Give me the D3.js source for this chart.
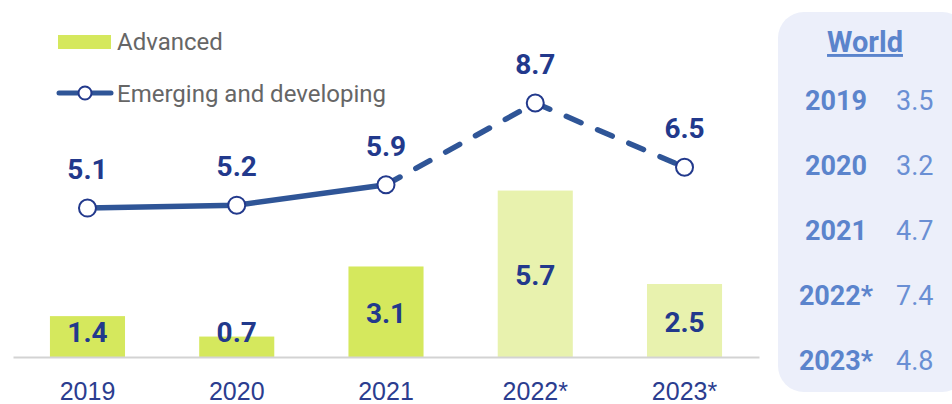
<!DOCTYPE html>
<html>
<head>
<meta charset="utf-8">
<script src="https://cdn.jsdelivr.net/npm/d3@7"></script>
<style>
    body { margin: 0; background: #fff; }
    svg { display: block; font-family: Roboto, "Noto Sans", sans-serif; }
    .axis .domain { stroke: #d3d3d3; stroke-width: 2; }
    .axis text { font-size: 25px; fill: #2b3d8f; }
    .val { font-size: 28px; font-weight: 700; fill: #22398c; text-anchor: middle; }
    .legend text { font-size: 24px; fill: #666; }
</style>
</head>
<body>
<svg id="chart" width="952" height="404"></svg>
<script>
// data
const years = ["2019", "2020", "2021", "2022*", "2023*"];
const forecast = [false, false, false, true, true];
const advanced = [1.4, 0.7, 3.1, 5.7, 2.5];
const emerging = [5.1, 5.2, 5.9, 8.7, 6.5];
const world = [3.5, 3.2, 4.7, 7.4, 4.8];

const svg = d3.select("#chart");

const x = d3.scaleBand().domain(years).range([13, 759])
    .paddingInner(0.497).paddingOuter(0.2475);
const y = d3.scaleLinear().domain([0, 10]).range([357, 65]);
const cx = d => x(d) + x.bandwidth() / 2;

// bars
svg.selectAll("rect.bar").data(years).enter()
    .append("rect")
        .attr("class", "bar")
        .attr("x", d => x(d))
        .attr("width", x.bandwidth())
        .attr("y", (d, i) => y(advanced[i]))
        .attr("height", (d, i) => y(0) - y(advanced[i]))
        .attr("fill", (d, i) => forecast[i] ? "#e8f2ae" : "#d5e85d");

// axis
const axis = svg.append("g").attr("class", "axis")
    .attr("transform", "translate(0," + y(0) + ")")
    .call(d3.axisBottom(x).tickSize(0).tickSizeOuter(0).tickPadding(25));
axis.selectAll(".tick line").remove();

// bar labels
svg.selectAll("text.bar-label").data(years).enter()
    .append("text")
        .attr("class", "val bar-label")
        .attr("x", cx)
        .attr("y", (d, i) => Math.min(y(advanced[i] / 2), y(0.9)) + 11)
        .text((d, i) => advanced[i].toFixed(1));

// emerging line: solid for actual years, dashed for estimates
const pts = years.map((d, i) => [cx(d), y(emerging[i])]);
const line = d3.line();
svg.append("path")
    .attr("d", line(pts.slice(0, 3)))
    .attr("fill", "none").attr("stroke", "#2f5597").attr("stroke-width", 5.5);
svg.append("path")
    .attr("d", line(pts.slice(2)))
    .attr("fill", "none").attr("stroke", "#2f5597").attr("stroke-width", 5.5)
    .attr("stroke-linecap", "round").attr("stroke-dasharray", "16,18");

svg.selectAll("circle.pt").data(pts).enter()
    .append("circle")
        .attr("class", "pt")
        .attr("cx", d => d[0]).attr("cy", d => d[1]).attr("r", 8.5)
        .attr("fill", "#fff").attr("stroke", "#22398c").attr("stroke-width", 2);

svg.selectAll("text.line-label").data(years).enter()
    .append("text")
        .attr("class", "val line-label")
        .attr("x", cx)
        .attr("y", (d, i) => y(emerging[i]) - 29)
        .text((d, i) => emerging[i].toFixed(1));

// legend
const lg = svg.append("g").attr("class", "legend");
lg.append("rect").attr("x", 58).attr("y", 35).attr("width", 53).attr("height", 14).attr("fill", "#d5e85d");
lg.append("text").attr("x", 117).attr("y", 50).text("Advanced");
lg.append("line").attr("x1", 59).attr("x2", 111).attr("y1", 93).attr("y2", 93)
    .attr("stroke", "#2f5597").attr("stroke-width", 5).attr("stroke-linecap", "round");
lg.append("circle").attr("cx", 85).attr("cy", 93).attr("r", 6.5)
    .attr("fill", "#fff").attr("stroke", "#22398c").attr("stroke-width", 2);
lg.append("text").attr("x", 117).attr("y", 102).text("Emerging and developing");

// world panel
const wp = svg.append("g");
wp.append("rect").attr("x", 778).attr("y", 12).attr("width", 190).attr("height", 380)
    .attr("rx", 26).attr("fill", "#eceffa");
wp.append("text").attr("x", 865).attr("y", 52).attr("text-anchor", "middle")
    .attr("font-size", 29).attr("font-weight", 700).attr("fill", "#5b84cc")
    .attr("text-decoration", "underline").text("World");
const rowY = d3.scalePoint().domain(years).range([110, 370]);
wp.selectAll("text.wy").data(years).enter()
    .append("text").attr("class", "wy")
        .attr("x", 836).attr("y", d => rowY(d)).attr("text-anchor", "middle")
        .attr("font-size", 27).attr("font-weight", 700).attr("fill", "#5b84cc")
        .text(d => d);
wp.selectAll("text.wv").data(years).enter()
    .append("text").attr("class", "wv")
        .attr("x", 896).attr("y", d => rowY(d))
        .attr("font-size", 27).attr("fill", "#6a8fd4")
        .text((d, i) => world[i].toFixed(1));
</script>
</body>
</html>
